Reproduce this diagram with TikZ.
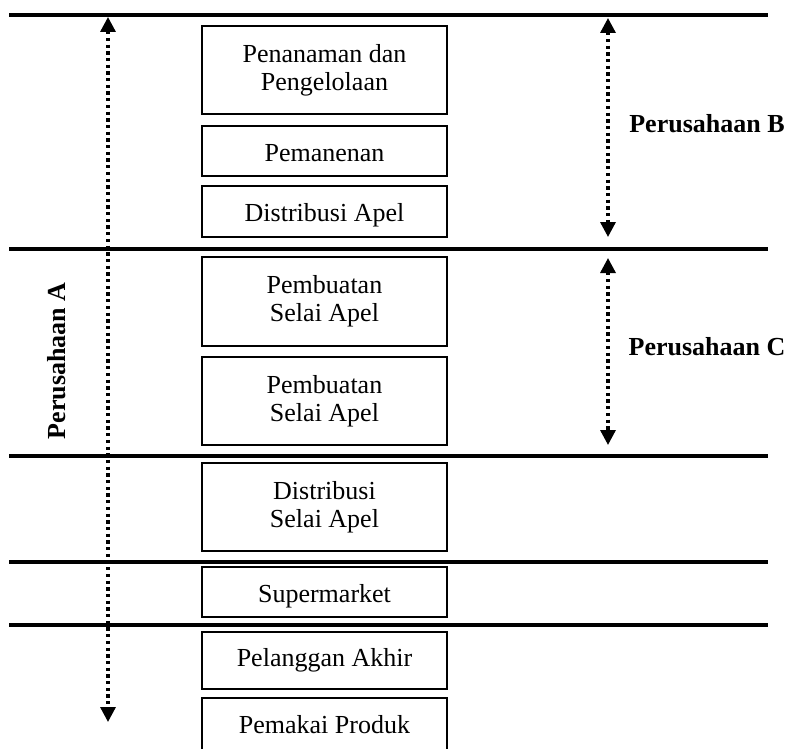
\documentclass[tikz,border=0pt]{standalone}
\usepackage{fontspec}
\setmainfont{Liberation Serif}
\usetikzlibrary{arrows.meta}
\begin{document}
\begin{tikzpicture}[x=1pt,y=-1pt,
  stage/.style={draw,line width=2pt,minimum width=245pt,inner sep=0pt,
    align=center,font=\fontsize{26}{28}\selectfont},
  oneline/.style={text height=20pt,text depth=0pt},
  divider/.style={line width=3.6pt},
  span/.style={line width=3.3pt,dash pattern=on 3.3pt off 3.4pt,
    {Triangle[length=15pt,width=15pt]}-{Triangle[length=15pt,width=15pt]}},
  company/.style={font=\fontsize{26}{28}\selectfont\bfseries,anchor=base}]
\useasboundingbox (0,0) rectangle (790,749);
\clip (0,0) rectangle (790,749);

% separators between the company sections
\foreach \y in {15,249,456,562,625}
  \draw[divider] (9,\y) -- (768,\y);

% supply chain stages
\node[stage,minimum height=88pt] (s1) at (324.5,70)   {Penanaman dan\\Pengelolaan};
\node[stage,oneline,minimum height=50pt] (s2) at (324.5,151)  {Pemanenan};
\node[stage,oneline,minimum height=51pt] (s3) at (324.5,211.5){Distribusi Apel};
\node[stage,minimum height=89pt] (s4) at (324.5,301.5){Pembuatan\\Selai Apel};
\node[stage,minimum height=88pt] (s5) at (324.5,401)  {Pembuatan\\Selai Apel};
\node[stage,minimum height=88pt] (s6) at (324.5,507)  {Distribusi\\Selai Apel};
\node[stage,oneline,minimum height=50pt] (s7) at (324.5,592)  {Supermarket};
\node[stage,minimum height=57pt] (s8) at (324.5,660.5){Pelanggan Akhir};
\node[stage,anchor=north,text height=18pt,text depth=60pt,inner ysep=17pt]
  (s9) at (324.5,697) {Pemakai Produk};

% extent of each company
\coordinate (aTop) at (108,17);
\coordinate (aBot) at (108,722);
\coordinate (bTop) at (608,18);
\coordinate (bBot) at (608,237);
\coordinate (cTop) at (608,258);
\coordinate (cBot) at (608,445);
\draw[span] (aTop) -- (aBot);
\draw[span] (bTop) -- (bBot);
\draw[span] (cTop) -- (cBot);

\node[company] (pa) at (65,361) [rotate=90] {Perusahaan A};
\node[company] (pb) at (707,133) {Perusahaan B};
\node[company] (pc) at (707,355) {Perusahaan C};
\end{tikzpicture}
\end{document}
